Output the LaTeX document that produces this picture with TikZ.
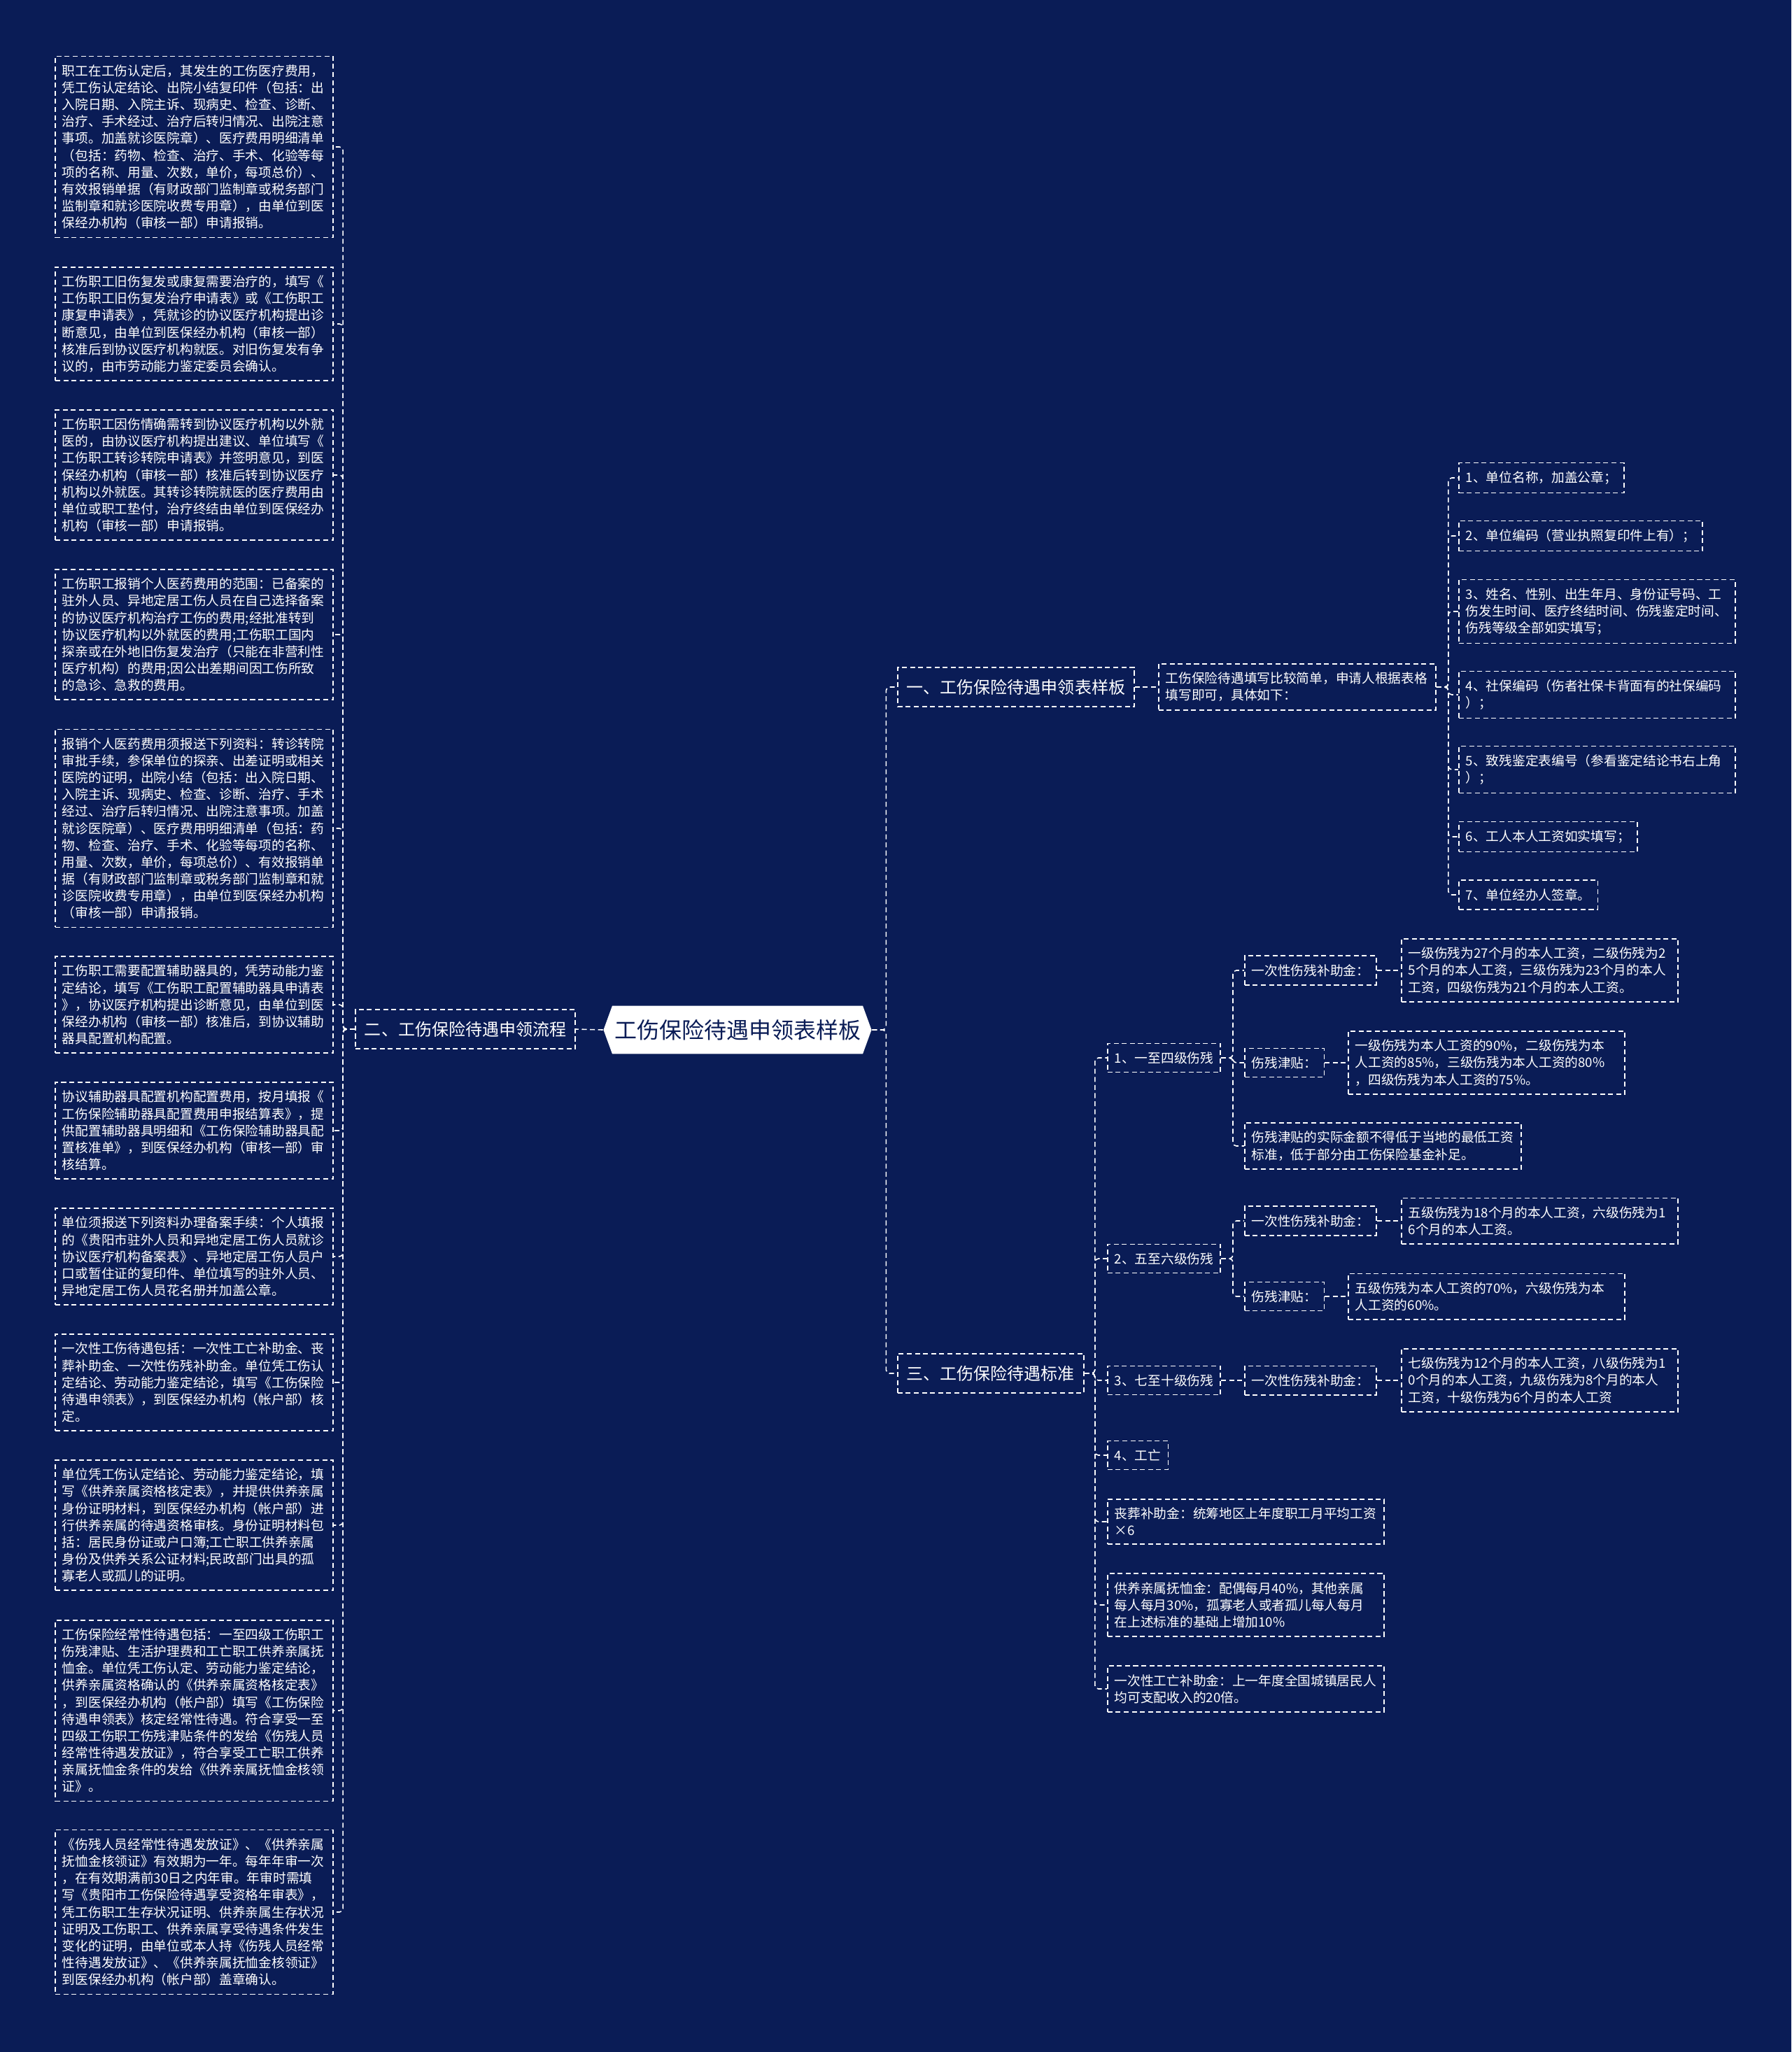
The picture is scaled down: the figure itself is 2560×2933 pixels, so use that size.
\documentclass[tikz,border=0pt]{standalone}
\usepackage{fontspec}
\setmainfont{Noto Sans CJK SC}
\usetikzlibrary{shapes.symbols}
\definecolor{navy}{RGB}{10,28,86}

\begin{document}
\begin{tikzpicture}[x=0.01cm,y=-0.01cm,
  small/.style={font=\fontsize{5.32pt}{6.86pt}\selectfont},
  dashbox/.style={draw=white,line width=0.45pt,dash pattern=on 2pt off 1.3pt,text=white,inner xsep=0.1cm,inner ysep=0.12cm,align=left,small},
  note/.style={dashbox,text width=3.77cm,anchor=east},
  leaf/.style={dashbox,anchor=west},
  wide/.style={leaf,text width=3.75cm},
  branch/.style={dashbox,font=\fontsize{6.83pt}{8pt}\selectfont,inner xsep=0.13cm,inner ysep=0.17cm},
  root/.style={shape=signal,signal to=west and east,signal pointer angle=140,fill=white,text=navy,font=\fontsize{9.1pt}{11pt}\selectfont,inner xsep=0.03cm,inner ysep=0.195cm},
  link/.style={draw=white,line width=0.45pt,dash pattern=on 2pt off 1.3pt,rounded corners=0.05cm}]
\fill[navy] (0,0) rectangle (2560,2933);
\useasboundingbox (0,0) rectangle (2560,2933);

\node[root] (ROOT) at (1054,1472) {工伤保险待遇申领表样板};
\node[branch,anchor=east] (TWO) at (823,1471) {二、工伤保险待遇申领流程};
\node[branch,anchor=west] (ONE) at (1282,982) {一、工伤保险待遇申领表样板};
\node[branch,anchor=west] (THREE) at (1282,1963) {三、工伤保险待遇标准};

\node[note] (FLOW1) at (477,210) {职工在工伤认定后，其发生的工伤医疗费用，\\凭工伤认定结论、出院小结复印件（包括：出\\入院日期、入院主诉、现病史、检查、诊断、\\治疗、手术经过、治疗后转归情况、出院注意\\事项。加盖就诊医院章）、医疗费用明细清单\\（包括：药物、检查、治疗、手术、化验等每\\项的名称、用量、次数，单价，每项总价）、\\有效报销单据（有财政部门监制章或税务部门\\监制章和就诊医院收费专用章），由单位到医\\保经办机构（审核一部）申请报销。};
\node[note] (FLOW2) at (477,463) {工伤职工旧伤复发或康复需要治疗的，填写《\\工伤职工旧伤复发治疗申请表》或《工伤职工\\康复申请表》，凭就诊的协议医疗机构提出诊\\断意见，由单位到医保经办机构（审核一部）\\核准后到协议医疗机构就医。对旧伤复发有争\\议的，由市劳动能力鉴定委员会确认。};
\node[note] (FLOW3) at (477,679) {工伤职工因伤情确需转到协议医疗机构以外就\\医的，由协议医疗机构提出建议、单位填写《\\工伤职工转诊转院申请表》并签明意见，到医\\保经办机构（审核一部）核准后转到协议医疗\\机构以外就医。其转诊转院就医的医疗费用由\\单位或职工垫付，治疗终结由单位到医保经办\\机构（审核一部）申请报销。};
\node[note] (FLOW4) at (477,907) {工伤职工报销个人医药费用的范围：已备案的\\驻外人员、异地定居工伤人员在自己选择备案\\的协议医疗机构治疗工伤的费用;经批准转到\\协议医疗机构以外就医的费用;工伤职工国内\\探亲或在外地旧伤复发治疗（只能在非营利性\\医疗机构）的费用;因公出差期间因工伤所致\\的急诊、急救的费用。};
\node[note] (FLOW5) at (477,1184) {报销个人医药费用须报送下列资料：转诊转院\\审批手续，参保单位的探亲、出差证明或相关\\医院的证明，出院小结（包括：出入院日期、\\入院主诉、现病史、检查、诊断、治疗、手术\\经过、治疗后转归情况、出院注意事项。加盖\\就诊医院章）、医疗费用明细清单（包括：药\\物、检查、治疗、手术、化验等每项的名称、\\用量、次数，单价，每项总价）、有效报销单\\据（有财政部门监制章或税务部门监制章和就\\诊医院收费专用章），由单位到医保经办机构\\（审核一部）申请报销。};
\node[note] (FLOW6) at (477,1436) {工伤职工需要配置辅助器具的，凭劳动能力鉴\\定结论，填写《工伤职工配置辅助器具申请表\\》，协议医疗机构提出诊断意见，由单位到医\\保经办机构（审核一部）核准后，到协议辅助\\器具配置机构配置。};
\node[note] (FLOW7) at (477,1616) {协议辅助器具配置机构配置费用，按月填报《\\工伤保险辅助器具配置费用申报结算表》，提\\供配置辅助器具明细和《工伤保险辅助器具配\\置核准单》，到医保经办机构（审核一部）审\\核结算。};
\node[note] (FLOW8) at (477,1796) {单位须报送下列资料办理备案手续：个人填报\\的《贵阳市驻外人员和异地定居工伤人员就诊\\协议医疗机构备案表》、异地定居工伤人员户\\口或暂住证的复印件、单位填写的驻外人员、\\异地定居工伤人员花名册并加盖公章。};
\node[note] (FLOW9) at (477,1976) {一次性工伤待遇包括：一次性工亡补助金、丧\\葬补助金、一次性伤残补助金。单位凭工伤认\\定结论、劳动能力鉴定结论，填写《工伤保险\\待遇申领表》，到医保经办机构（帐户部）核\\定。};
\node[note] (FLOW10) at (477,2180) {单位凭工伤认定结论、劳动能力鉴定结论，填\\写《供养亲属资格核定表》，并提供供养亲属\\身份证明材料，到医保经办机构（帐户部）进\\行供养亲属的待遇资格审核。身份证明材料包\\括：居民身份证或户口簿;工亡职工供养亲属\\身份及供养关系公证材料;民政部门出具的孤\\寡老人或孤儿的证明。};
\node[note] (FLOW11) at (477,2445) {工伤保险经常性待遇包括：一至四级工伤职工\\伤残津贴、生活护理费和工亡职工供养亲属抚\\恤金。单位凭工伤认定、劳动能力鉴定结论，\\供养亲属资格确认的《供养亲属资格核定表》\\，到医保经办机构（帐户部）填写《工伤保险\\待遇申领表》核定经常性待遇。符合享受一至\\四级工伤职工伤残津贴条件的发给《伤残人员\\经常性待遇发放证》，符合享受工亡职工供养\\亲属抚恤金条件的发给《供养亲属抚恤金核领\\证》。};
\node[note] (FLOW12) at (477,2733) {《伤残人员经常性待遇发放证》、《供养亲属\\抚恤金核领证》有效期为一年。每年年审一次\\，在有效期满前30日之内年审。年审时需填\\写《贵阳市工伤保险待遇享受资格年审表》，\\凭工伤职工生存状况证明、供养亲属生存状况\\证明及工伤职工、供养亲属享受待遇条件发生\\变化的证明，由单位或本人持《伤残人员经常\\性待遇发放证》、《供养亲属抚恤金核领证》\\到医保经办机构（帐户部）盖章确认。};

\node[wide,text width=3.76cm] (DESC) at (1655,982) {工伤保险待遇填写比较简单，申请人根据表格\\填写即可，具体如下：};
\node[leaf] (ITEM1) at (2084,683) {1、单位名称，加盖公章；};
\node[leaf] (ITEM2) at (2084,766) {2、单位编码（营业执照复印件上有）；};
\node[wide] (ITEM3) at (2084,874) {3、姓名、性别、出生年月、身份证号码、工\\伤发生时间、医疗终结时间、伤残鉴定时间、\\伤残等级全部如实填写；};
\node[wide] (ITEM4) at (2084,993) {4、社保编码（伤者社保卡背面有的社保编码\\）；};
\node[wide] (ITEM5) at (2084,1100) {5、致残鉴定表编号（参看鉴定结论书右上角\\）；};
\node[leaf] (ITEM6) at (2084,1196) {6、工人本人工资如实填写；};
\node[leaf] (ITEM7) at (2084,1279) {7、单位经办人签章。};

\node[leaf] (GRADEA) at (1582,1512) {1、一至四级伤残};
\node[leaf] (GRADEB) at (1582,1799) {2、五至六级伤残};
\node[leaf] (GRADEC) at (1582,1973) {3、七至十级伤残};
\node[leaf] (DEATH) at (1582,2080) {4、工亡};
\node[wide] (FUNERAL) at (1582,2175) {丧葬补助金：统筹地区上年度职工月平均工资\\×6};
\node[wide] (PENSION) at (1582,2294) {供养亲属抚恤金：配偶每月40\%，其他亲属\\每人每月30\%，孤寡老人或者孤儿每人每月\\在上述标准的基础上增加10\%};
\node[wide] (LUMP) at (1582,2414) {一次性工亡补助金：上一年度全国城镇居民人\\均可支配收入的20倍。};

\node[leaf] (A1) at (1778,1387) {一次性伤残补助金：};
\node[leaf] (A2) at (1778,1519) {伤残津贴：};
\node[wide] (A3) at (1778,1638) {伤残津贴的实际金额不得低于当地的最低工资\\标准，低于部分由工伤保险基金补足。};
\node[wide] (A1D) at (2002,1387) {一级伤残为27个月的本人工资，二级伤残为2\\5个月的本人工资，三级伤残为23个月的本人\\工资，四级伤残为21个月的本人工资。};
\node[wide] (A2D) at (1926,1519) {一级伤残为本人工资的90\%，二级伤残为本\\人工资的85\%，三级伤残为本人工资的80\%\\，四级伤残为本人工资的75\%。};
\node[leaf] (B1) at (1778,1745) {一次性伤残补助金：};
\node[leaf] (B2) at (1778,1853) {伤残津贴：};
\node[wide] (B1D) at (2002,1745) {五级伤残为18个月的本人工资，六级伤残为1\\6个月的本人工资。};
\node[wide] (B2D) at (1926,1853) {五级伤残为本人工资的70\%，六级伤残为本\\人工资的60\%。};
\node[leaf] (C1) at (1778,1973) {一次性伤残补助金：};
\node[wide] (C1D) at (2002,1973) {七级伤残为12个月的本人工资，八级伤残为1\\0个月的本人工资，九级伤残为8个月的本人\\工资，十级伤残为6个月的本人工资};

\draw[link] (ROOT.west) -- (TWO.east);
\foreach \n in {1,...,12}
  \draw[link] (TWO.west) -- ++(-17,0) |- (FLOW\n.east);
\foreach \n in {ONE,THREE}
  \draw[link] (ROOT.east) -- ++(20,0) |- (\n.west);
\draw[link] (ONE.east) -- (DESC.west);
\foreach \n in {1,...,7}
  \draw[link] (DESC.east) -- ++(17,0) |- (ITEM\n.west);
\foreach \n in {GRADEA,GRADEB,GRADEC,DEATH,FUNERAL,PENSION,LUMP}
  \draw[link] (THREE.east) -- ++(15,0) |- (\n.west);
\foreach \n in {A1,A2,A3}
  \draw[link] (GRADEA.east) -- ++(17,0) |- (\n.west);
\foreach \n in {B1,B2}
  \draw[link] (GRADEB.east) -- ++(17,0) |- (\n.west);
\draw[link] (GRADEC.east) -- (C1.west);
\foreach \a/\b in {A1/A1D,A2/A2D,B1/B1D,B2/B2D,C1/C1D}
  \draw[link] (\a.east) -- (\b.west);
\end{tikzpicture}
\end{document}
